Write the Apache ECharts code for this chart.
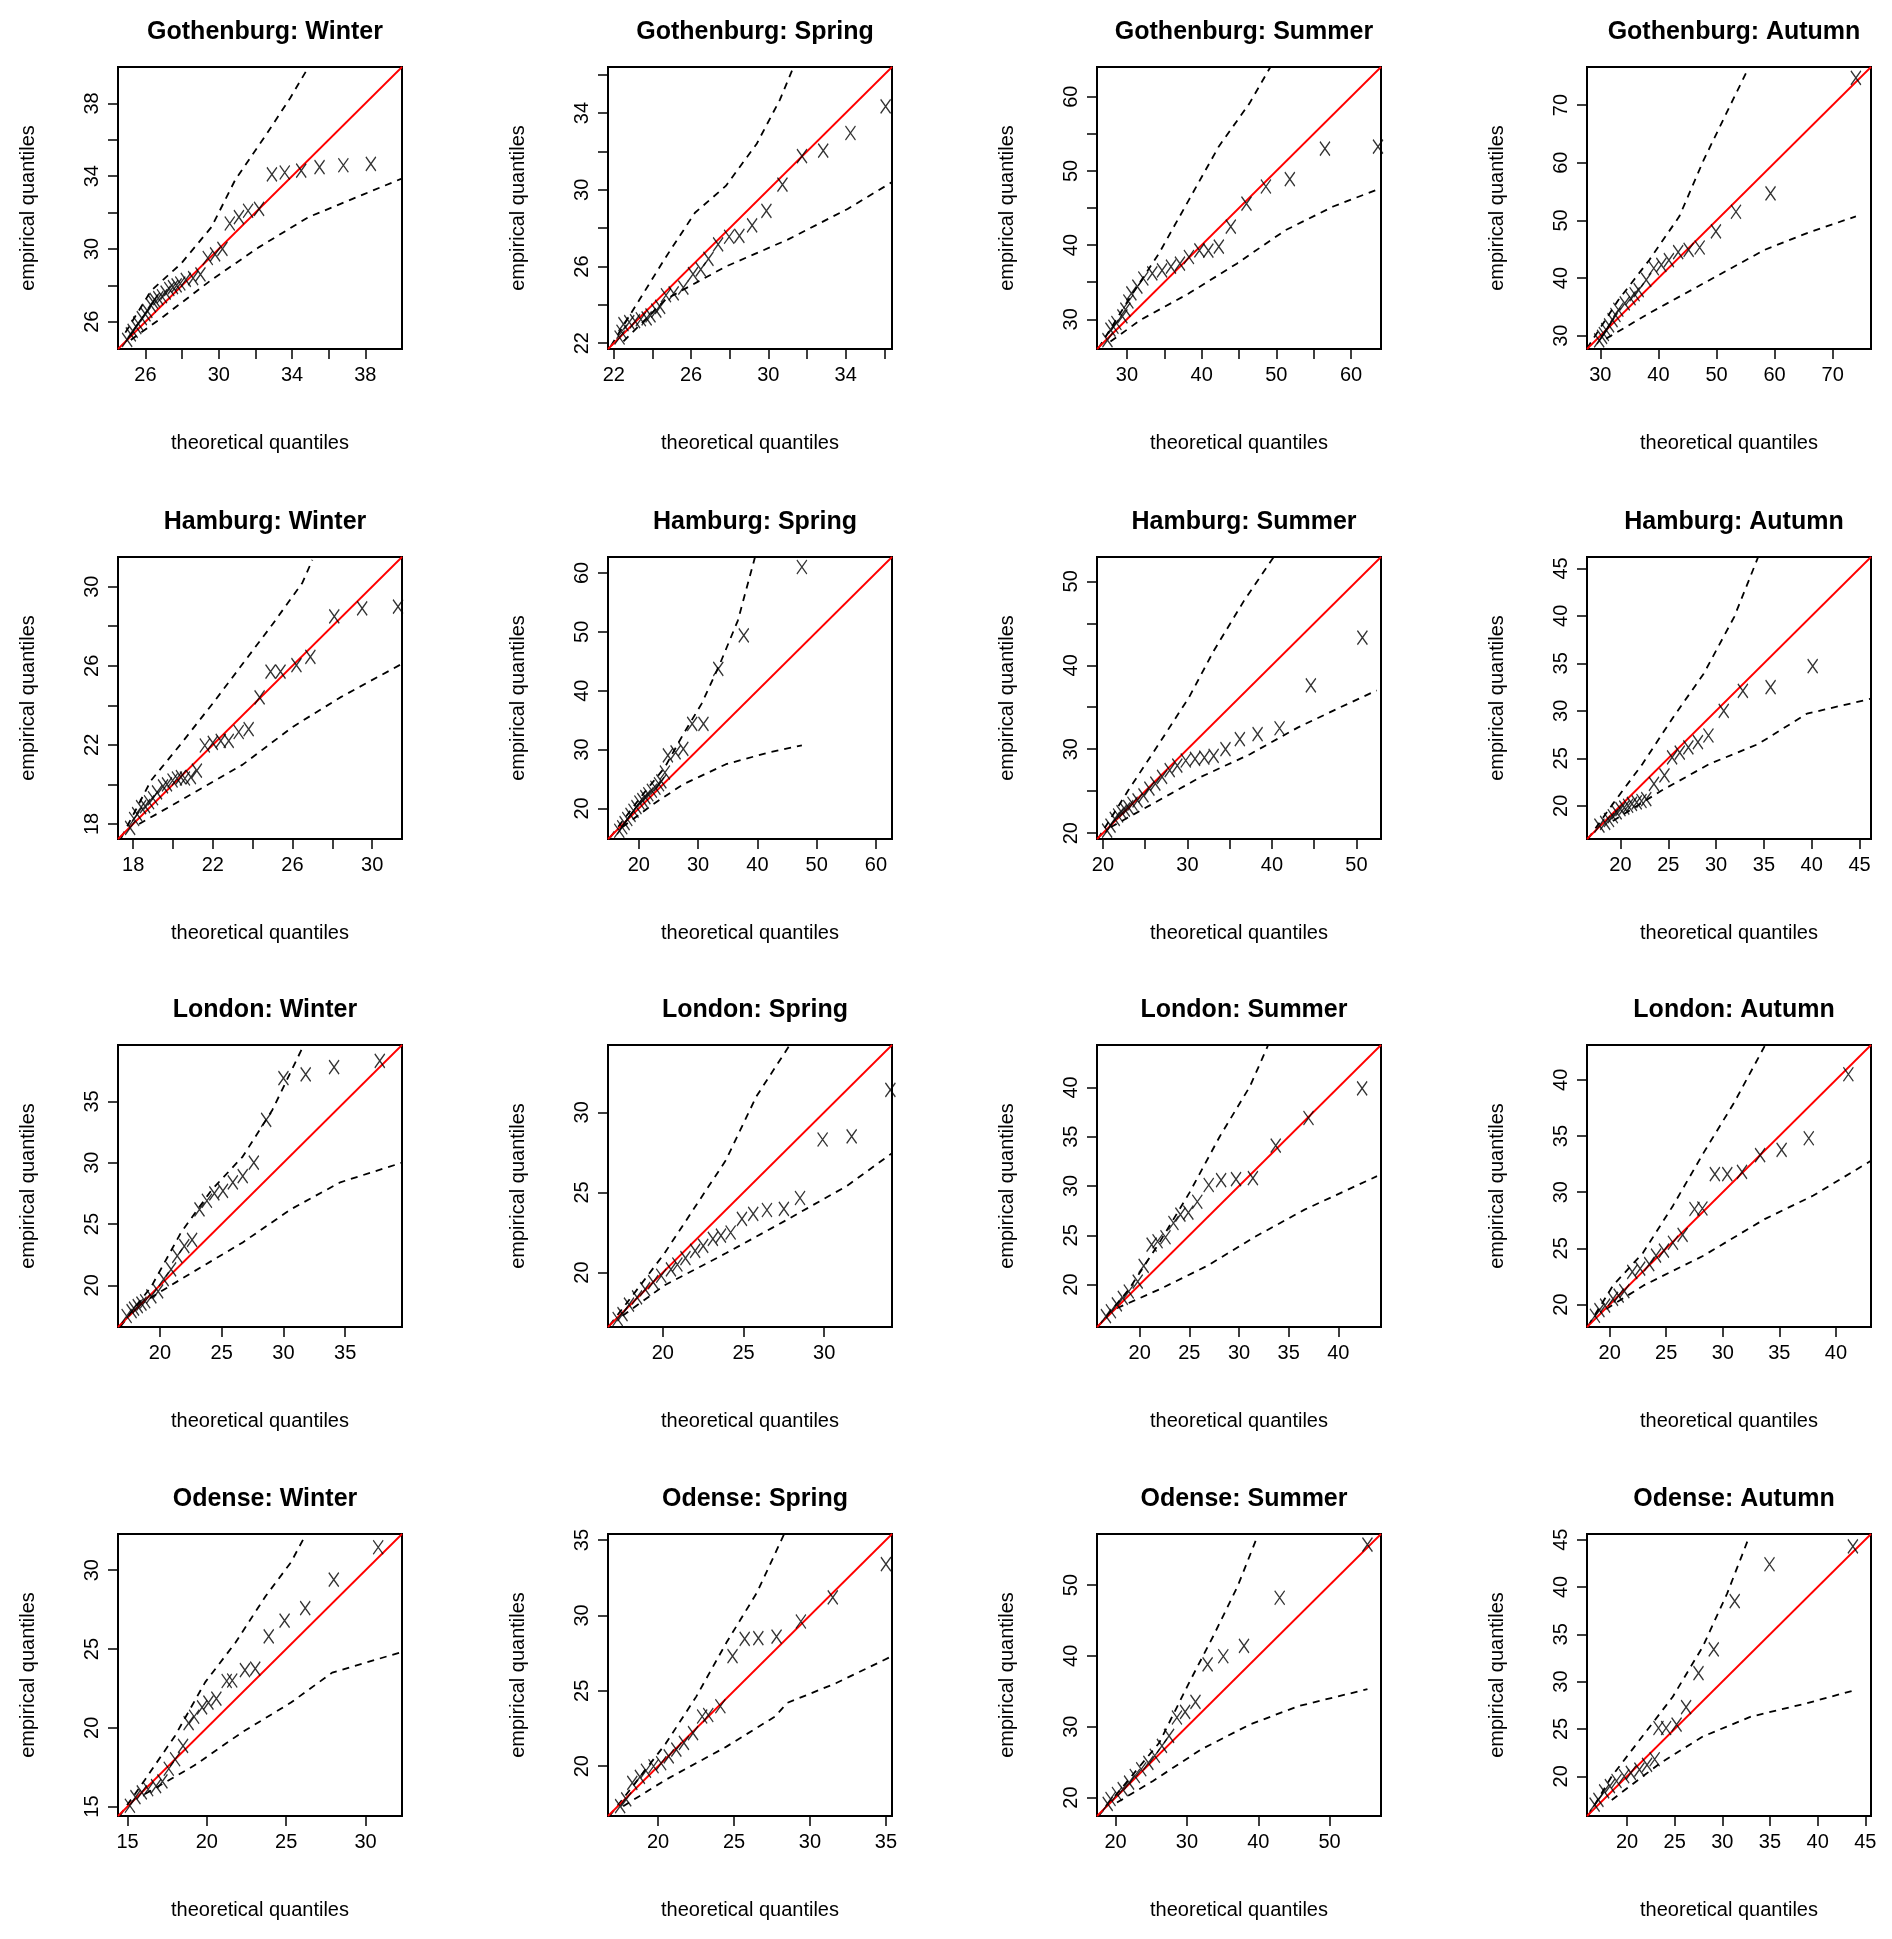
<!DOCTYPE html>
<html><head><meta charset="utf-8">
<script src="https://cdn.jsdelivr.net/npm/echarts@6/dist/echarts.min.js"></script>
<style>html,body{margin:0;padding:0;background:#fff}#c{width:1892px;height:1939px}</style>
</head><body><div id="c"></div>
<script>
const titles = ["Gothenburg: Winter","Gothenburg: Spring","Gothenburg: Summer","Gothenburg: Autumn",
"Hamburg: Winter","Hamburg: Spring","Hamburg: Summer","Hamburg: Autumn",
"London: Winter","London: Spring","London: Summer","London: Autumn",
"Odense: Winter","Odense: Spring","Odense: Summer","Odense: Autumn"];
const ranges = [[24.5,40],[21.7,36.4],[26,64],[27.7,76.6],
[17.24,31.5],[14.8,62.7],[19.3,52.9],[16.5,46.2],
[16.6,39.6],[16.6,34.2],[15.7,44.3],[18,43.1],
[14.4,32.3],[16.7,35.4],[17.4,57.2],[15.8,45.6]];
const ticks = [[26,28,30,32,34,36,38],[22,24,26,28,30,32,34,36],[30,35,40,45,50,55,60],[30,40,50,60,70],
[18,20,22,24,26,28,30],[20,30,40,50,60],[20,25,30,35,40,45,50],[20,25,30,35,40,45],
[20,25,30,35],[20,25,30],[20,25,30,35,40],[20,25,30,35,40],
[15,20,25,30],[20,25,30,35],[20,30,40,50],[20,25,30,35,40,45]];
const tickLabels = [[26,30,34,38],[22,26,30,34],[30,40,50,60],[30,40,50,60,70],
[18,22,26,30],[20,30,40,50,60],[20,30,40,50],[20,25,30,35,40,45],
[20,25,30,35],[20,25,30],[20,25,30,35,40],[20,25,30,35,40],
[15,20,25,30],[20,25,30,35],[20,30,40,50],[20,25,30,35,40,45]];

const gwPts=[[38.3,34.68],[36.8,34.6],[35.5,34.5],[34.5,34.3],[33.6,34.2],[32.9,34.1],[32.2,32.2],[31.6,32.1],[31.1,31.75],[30.6,31.4],[30.2,30.0],[29.8,29.7],[29.4,29.5],[29.0,28.6],[28.6,28.4],[28.2,28.3],[27.9,28.1],[27.7,28.0],[27.5,27.9],[27.3,27.8],[27.1,27.6],[26.9,27.4],[26.7,27.3],[26.5,27.2],[26.4,27.1],[26.3,26.9],[26.1,26.6],[26.0,26.4],[25.8,26.2],[25.6,25.9],[25.5,25.7],[25.3,25.5],[25.2,25.3],[25.0,25.0]];
const gwUp=[[24.9,25.4],[26.3,27.7],[27.95,29.2],[29.6,31.2],[30.9,33.8],[32.6,36.3],[33.9,38.3],[34.9,40]];
const gwLo=[[25.2,25.0],[27.0,26.3],[29.6,28.3],[32.2,30.1],[34.9,31.75],[37.9,33.0],[39.95,33.85]];

const gsPts=[[36.07,34.35],[34.25,32.96],[32.84,32.04],[31.74,31.75],[30.73,30.27],[29.9,28.9],[29.16,28.14],[28.5,27.6],[27.97,27.55],[27.4,27.15],[26.9,26.4],[26.5,25.85],[26.1,25.6],[25.6,24.9],[25.1,24.6],[24.7,24.5],[24.4,23.9],[24.2,23.7],[23.9,23.45],[23.7,23.3],[23.4,23.25],[23.1,23.15],[22.8,23.1],[22.5,23.0],[22.4,22.6],[22.3,22.3]];
const gsUp=[[21.85,21.86],[23.1,23.9],[24.7,26.5],[26.2,28.8],[27.8,30.2],[29.4,32.4],[30.6,34.7],[31.3,36.4]];
const gsLo=[[22.5,22.1],[24.7,24.3],[27.8,26.0],[31.0,27.4],[34.1,29.0],[36.4,30.4]];

const gsuPts=[[63.6,53.26],[56.5,53.0],[51.8,48.9],[48.6,47.9],[46.0,45.6],[43.9,42.5],[42.3,39.8],[40.9,39.25],[39.7,39.3],[38.3,38.4],[37.1,37.5],[35.9,37.1],[34.7,36.6],[33.4,36.2],[32.2,35.5],[31.4,34.4],[30.6,33.5],[30.2,32.4],[29.8,31.3],[29.4,30.4],[28.6,29.5],[28.2,29.0],[27.8,28.6],[27.4,27.2]];
const gsuUp=[[26.2,26.1],[30.2,32.6],[34.3,38.9],[38.3,46.1],[42.3,53.3],[46.4,59.1],[49.2,64]];
const gsuLo=[[27.8,27.0],[31.8,29.9],[38.3,33.5],[44.7,37.5],[51.2,42.0],[57.6,45.2],[63.8,47.6]];

const gaPts=[[74.0,74.7],[59.3,54.7],[53.35,51.5],[49.9,48.1],[47.1,45.3],[45.2,44.9],[43.4,44.5],[41.8,43.1],[40.5,42.3],[39.2,41.7],[37.9,39.7],[36.6,37.9],[35.9,37.2],[35.2,36.5],[34.2,35.6],[33.1,34.5],[32.6,33.6],[32.1,32.7],[31.5,31.8],[31.0,31.0],[30.6,30.3],[30.3,29.8],[29.8,29.2]];
const gaUp=[[27.7,27.8],[33.1,36.2],[38.4,43.1],[43.6,50.7],[47.8,60.5],[52.0,69.2],[55.1,75.6]];
const gaLo=[[31.0,29.5],[38.4,33.9],[47.8,39.1],[58.3,44.9],[65.6,47.8],[74.0,50.7]];

const hwPts=[[31.3,28.99],[29.5,28.9],[28.1,28.5],[26.9,26.45],[26.2,26.03],[25.4,25.7],[24.9,25.7],[24.35,24.4],[23.8,22.8],[23.3,22.65],[22.8,22.2],[22.4,22.2],[22.0,22.1],[21.6,21.97],[21.2,20.7],[20.9,20.37],[20.6,20.3],[20.4,20.37],[20.2,20.3],[19.98,20.2],[19.7,20.0],[19.5,19.9],[19.2,19.6],[19.0,19.3],[18.8,19.1],[18.6,18.9],[18.4,18.85],[18.2,18.5],[18.05,18.25],[17.85,17.8]];
const hwUp=[[17.4,17.3],[18.9,20.2],[20.4,22.05],[22.0,24.1],[23.5,26.1],[25.0,28.1],[26.5,30.2],[27.0,31.35]];
const hwLo=[[18.3,18.0],[20.4,19.2],[23.5,21.0],[26.0,22.9],[28.4,24.4],[31.5,26.1]];

const hsPts=[[47.5,61.0],[37.7,49.4],[33.4,43.7],[30.9,34.35],[29.0,34.35],[27.5,30.1],[26.2,29.5],[24.9,29.0],[24.4,26.1],[23.8,24.6],[23.4,24.1],[22.8,23.5],[22.2,23.0],[21.6,22.4],[21.1,21.9],[20.6,21.4],[20.1,21.0],[19.6,20.2],[19.1,19.6],[18.6,18.9],[18.05,18.2],[17.6,17.5],[17.2,16.8],[16.7,16.2]];
const hsUp=[[15.2,15.1],[20.3,21.9],[24.4,27.0],[27.5,32.6],[30.6,37.8],[33.7,44.6],[36.7,51.9],[39.6,62.7]];
const hsLo=[[17.2,16.8],[22.4,20.7],[27.5,24.1],[34.7,27.5],[41.9,29.5],[47.5,30.7]];

const hsuPts=[[50.7,43.3],[44.6,37.6],[40.9,32.5],[38.3,31.8],[36.2,31.2],[34.5,30.0],[33.1,29.2],[32.0,29.0],[30.9,28.85],[29.8,28.65],[28.8,28.05],[27.9,27.5],[27.0,26.7],[26.2,25.9],[25.5,25.3],[24.8,24.5],[24.1,23.9],[23.5,23.5],[23.0,23.1],[22.6,22.8],[22.2,22.5],[21.8,22.1],[21.4,21.7],[20.9,20.9],[20.5,20.3]];
const hsuUp=[[19.4,19.3],[23.0,25.1],[26.6,30.6],[30.2,36.2],[33.1,41.7],[36.7,47.7],[40.2,52.9]];
const hsuLo=[[20.9,20.7],[25.9,23.5],[31.6,26.7],[37.4,29.4],[43.1,32.6],[48.1,35.0],[52.4,37.0]];

const haPts=[[40.1,34.7],[35.7,32.5],[32.8,32.1],[30.8,30.0],[29.2,27.4],[28.1,26.7],[27.1,26.15],[26.2,25.6],[25.4,25.1],[24.6,23.2],[23.5,22.3],[22.7,20.7],[22.2,20.5],[21.7,20.35],[21.2,20.2],[20.8,20.0],[20.4,19.8],[20.0,19.65],[19.6,19.3],[19.2,18.9],[18.8,18.5],[18.4,18.2],[17.8,17.9]];
const haUp=[[16.6,16.5],[19.2,20.2],[22.3,24.4],[25.5,29.3],[28.7,33.9],[31.9,39.9],[34.4,46.2]];
const haLo=[[19.2,18.4],[24.3,21.6],[29.3,24.4],[34.4,26.5],[39.5,29.7],[46.1,31.25]];

const lwPts=[[37.8,38.3],[34.1,37.8],[31.8,37.2],[30.0,36.9],[28.6,33.5],[27.6,30.0],[26.7,28.9],[25.9,28.4],[25.1,27.7],[24.4,27.5],[23.8,26.9],[23.2,26.2],[22.6,23.7],[21.97,23.2],[21.4,22.4],[20.9,21.3],[20.3,20.5],[19.85,19.5],[19.3,19.1],[18.8,18.7],[18.5,18.5],[18.2,18.3],[17.9,18.1],[17.7,17.9],[17.3,17.5]];
const lwUp=[[16.8,16.65],[19.3,19.9],[21.7,24.3],[24.2,27.8],[26.7,30.5],[29.1,34.3],[31.6,39.5]];
const lwLo=[[18.3,18.4],[21.7,20.5],[26.7,23.5],[30.6,26.2],[34.6,28.4],[39.6,30.0]];

const lsPts=[[34.1,31.4],[31.7,28.5],[29.9,28.3],[28.5,24.65],[27.5,23.97],[26.45,23.9],[25.6,23.66],[24.9,23.35],[24.2,22.5],[23.6,22.3],[23.1,22.1],[22.5,21.66],[22.0,21.35],[21.4,20.9],[20.9,20.5],[20.5,20.2],[19.9,19.8],[19.4,19.4],[18.9,18.96],[18.4,18.45],[17.9,18.0],[17.5,17.4],[17.2,17.1]];
const lsUp=[[16.7,16.7],[18.6,19.2],[20.1,21.2],[22.0,24.1],[23.9,27.0],[25.8,31.0],[27.8,34.1]];
const lsLo=[[17.5,17.3],[20.1,19.2],[23.9,21.2],[27.7,23.3],[31.4,25.4],[34.2,27.45]];

const lsuPts=[[42.4,39.9],[37.0,36.9],[33.7,34.1],[31.4,30.8],[29.7,30.7],[28.2,30.6],[26.95,30.1],[25.8,28.4],[24.9,27.3],[24.1,27.1],[23.4,26.25],[22.6,24.8],[21.8,24.4],[21.2,24.05],[20.4,21.9],[19.8,20.3],[18.9,19.3],[18.3,18.65],[17.7,18.0],[17.1,17.3],[16.6,16.8]];
const lsuUp=[[15.85,15.8],[18.9,19.5],[21.95,24.2],[25.0,29.3],[28.05,35.0],[31.1,40.1],[32.9,44.2]];
const lsuLo=[[17.7,17.6],[21.95,19.5],[26.8,21.9],[31.7,24.9],[36.6,27.6],[43.9,31.0]];

const laPts=[[41.1,40.5],[37.6,34.8],[35.2,33.76],[33.3,33.3],[31.7,31.8],[30.4,31.6],[29.3,31.6],[28.2,28.55],[27.5,28.5],[26.45,26.2],[25.6,25.5],[24.8,24.8],[24.1,24.35],[23.5,23.6],[22.7,23.2],[22.0,22.9],[21.3,21.2],[20.8,20.8],[20.3,20.5],[19.6,19.9],[19.1,19.5],[18.7,19.0]];
const laUp=[[18.1,18.1],[20.3,21.7],[22.95,24.6],[25.6,28.8],[28.3,33.5],[31.0,37.96],[33.7,43.0]];
const laLo=[[19.7,19.6],[23.0,21.7],[28.3,24.35],[33.7,27.6],[38.0,29.7],[43.1,32.8]];

const owPts=[[30.8,31.46],[28.0,29.4],[26.2,27.6],[24.9,26.8],[23.9,25.8],[23.05,23.75],[22.4,23.66],[21.6,23.0],[21.25,22.97],[20.6,21.85],[20.1,21.6],[19.7,21.3],[19.2,20.7],[18.85,20.3],[18.5,18.85],[18.0,18.0],[17.6,17.4],[17.2,16.6],[16.8,16.3],[16.3,16.1],[15.9,15.9],[15.5,15.6],[15.15,15.05]];
const owUp=[[14.5,14.4],[16.1,16.7],[18.0,19.5],[19.9,22.9],[21.8,25.4],[23.7,28.35],[25.3,30.5],[26.2,32.2]];
const owLo=[[16.1,15.8],[19.2,17.6],[22.2,19.7],[25.3,21.6],[27.9,23.5],[32.25,24.8]];

const osPts=[[35.0,33.4],[31.5,31.2],[29.4,29.6],[27.8,28.6],[26.6,28.5],[25.7,28.45],[24.9,27.3],[24.1,23.98],[23.3,23.4],[22.9,23.3],[22.3,22.2],[21.7,21.55],[21.2,21.1],[20.7,20.65],[20.2,20.2],[19.7,20.0],[19.2,19.7],[18.8,19.3],[18.3,18.9],[17.9,17.8],[17.5,17.35]];
const osUp=[[16.8,16.7],[18.5,18.9],[20.5,21.5],[22.5,24.6],[24.5,28.2],[26.5,31.5],[28.3,35.4]];
const osLo=[[17.7,17.35],[20.5,19.1],[24.5,21.3],[27.7,23.3],[28.5,24.2],[31.7,25.5],[35.4,27.3]];

const osuPts=[[55.3,55.7],[43.0,48.2],[38.0,41.4],[35.1,39.95],[32.9,38.8],[31.2,33.5],[29.75,32.1],[28.6,31.3],[27.5,28.7],[26.5,27.3],[25.5,25.9],[24.6,24.9],[23.6,24.0],[22.7,23.05],[21.9,22.1],[21.0,21.2],[20.2,20.5],[19.3,19.8],[18.9,19.1]];
const osuUp=[[17.6,17.4],[21.9,22.6],[26.1,27.7],[30.3,36.2],[33.7,42.8],[37.1,49.8],[39.7,56.4]];
const osuLo=[[20.2,19.3],[25.25,22.35],[32.0,26.8],[38.8,30.3],[45.6,32.9],[55.3,35.3]];

const oaPts=[[43.7,44.3],[34.95,42.4],[31.3,38.5],[29.1,33.4],[27.5,30.9],[26.2,27.3],[25.2,25.45],[24.1,25.1],[23.3,25.1],[22.9,21.8],[22.1,21.2],[21.3,20.7],[20.4,20.35],[19.7,20.0],[18.9,19.5],[18.2,18.95],[17.6,18.4],[17.0,17.5],[16.6,17.0]];
const oaUp=[[15.9,15.8],[18.4,20.0],[21.6,24.2],[24.8,28.4],[27.95,33.7],[30.5,39.3],[32.7,45.0]];
const oaLo=[[18.4,17.5],[23.5,21.4],[27.95,24.2],[33.0,26.3],[38.8,27.7],[43.9,29.1]];

const pts=[gwPts,gsPts,gsuPts,gaPts,hwPts,hsPts,hsuPts,haPts,lwPts,lsPts,lsuPts,laPts,owPts,osPts,osuPts,oaPts];
const ups=[gwUp,gsUp,gsuUp,gaUp,hwUp,hsUp,hsuUp,haUp,lwUp,lsUp,lsuUp,laUp,owUp,osUp,osuUp,oaUp];
const los=[gwLo,gsLo,gsuLo,gaLo,hwLo,hsLo,hsuLo,haLo,lwLo,lsLo,lsuLo,laLo,owLo,osLo,osuLo,oaLo];

const colLeft=[118,608,1097,1587], rowTop=[67,557,1045,1534], W=284, H=282;
const FONT='"Liberation Sans", Arial, sans-serif';
const grid=[], xAxis=[], yAxis=[], series=[], title=[];
for(let i=0;i<16;i++){
  const r=Math.floor(i/4), c=i%4, [mn,mx]=ranges[i];
  grid.push({left:colLeft[c],top:rowTop[r],width:W,height:H,show:true,borderColor:'#000',borderWidth:2,backgroundColor:'transparent',containLabel:false});
  title.push({text:titles[i],left:colLeft[c]+W/2,top:rowTop[r]-52,textAlign:'center',textStyle:{fontFamily:FONT,fontWeight:'bold',fontSize:25,color:'#000'}});
  const common=(isX)=>({type:'value',gridIndex:i,min:mn,max:mx,
    name:isX?'theoretical quantiles':'empirical quantiles',nameLocation:'middle',nameGap:isX?84:80,
    nameTextStyle:{fontFamily:FONT,fontSize:20,color:'#000'},
    axisLine:{show:false},splitLine:{show:false},
    axisTick:{show:true,inside:false,length:10,lineStyle:{color:'#000',width:1.5},customValues:ticks[i]},
    axisLabel:{show:true,fontFamily:FONT,fontSize:20,color:'#000',margin:16,rotate:isX?0:90,customValues:tickLabels[i],formatter:v=>String(v)}});
  xAxis.push(common(true)); yAxis.push(common(false));
  series.push({type:'line',xAxisIndex:i,yAxisIndex:i,data:[[mn,mn],[mx,mx]],symbol:'none',lineStyle:{color:'#ff0000',width:1.8},silent:true,z:3});
  series.push({type:'line',xAxisIndex:i,yAxisIndex:i,data:ups[i],symbol:'none',lineStyle:{color:'#000',width:1.8,type:[7,6]},silent:true,z:2});
  series.push({type:'line',xAxisIndex:i,yAxisIndex:i,data:los[i],symbol:'none',lineStyle:{color:'#000',width:1.8,type:[7,6]},silent:true,z:2});
  series.push({type:'scatter',xAxisIndex:i,yAxisIndex:i,data:pts[i],symbol:'path://M0,0L10,14M10,0L0,14',symbolSize:[10,14],
    itemStyle:{color:'none',borderColor:'#000',borderWidth:1.4},silent:true,z:4});
}
const chart=echarts.init(document.getElementById('c'),null,{renderer:'canvas'});
chart.setOption({animation:false,backgroundColor:'#fff',title,grid,xAxis,yAxis,series});
</script></body></html>
